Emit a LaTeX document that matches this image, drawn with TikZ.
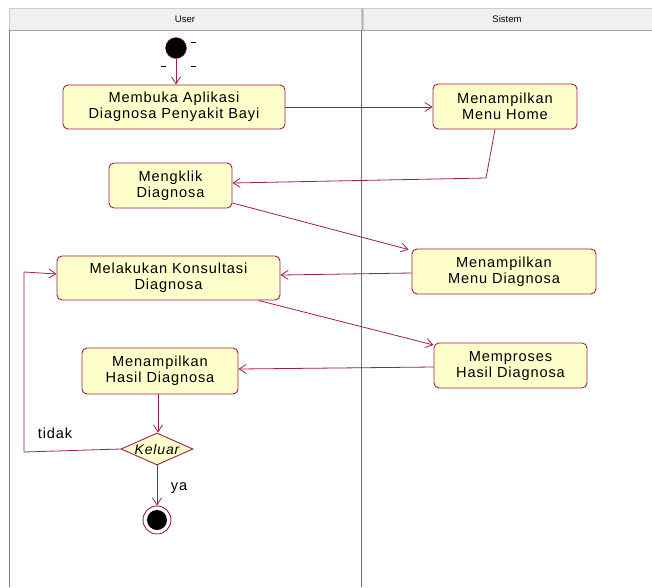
\documentclass[tikz,border=0pt]{standalone}
\usepackage{fontspec}
\setmainfont{Liberation Sans}
\newfontfamily\spaced[LetterSpace=6]{Liberation Sans}
\usetikzlibrary{arrows.meta,shapes.geometric}
\definecolor{lnc}{HTML}{A0204A}
\definecolor{boxfill}{HTML}{FFFFCC}
\definecolor{hdr}{HTML}{F0F0F0}
\begin{document}
\begin{tikzpicture}[x=1pt,y=-1pt,
  act/.style={draw=lnc, fill=boxfill, rounded corners=5pt, line width=0.9pt, align=center,
    font=\spaced\fontsize{14.6}{16}\selectfont, inner sep=0pt},
  flow/.style={draw=lnc, line width=0.8pt, -{Straight Barb[length=7pt,width=9pt]}},
  lbl/.style={font=\spaced\fontsize{14.6}{16}\selectfont}]
\useasboundingbox (0,0) rectangle (652,587);
% swimlane header
\fill[white] (0,0) rectangle (652,587);
\draw[gray!40, fill=hdr] (9,8) rectangle (361,30);
\draw[gray!40, fill=hdr] (363,8) rectangle (652,30);
\draw[gray!70, line width=1pt] (9,30) -- (652,30);
\draw[gray!60, line width=0.8pt] (362,8) -- (362,30);
\node[font=\fontsize{9.5}{11}\selectfont] (hu) at (185,19) {User};
\node[font=\fontsize{9.5}{11}\selectfont] (hs) at (507,19) {Sistem};
\draw[gray, line width=0.8pt] (9,30) -- (9,587);
\draw[lnc!80, line width=1pt] (361,30) -- (361,587);
% start
\node[circle, fill=black, draw=lnc, minimum size=21pt, inner sep=0pt] (start) at (176,48) {};
\draw[black, line width=0.5pt] (191,42) -- (196,42) (161,66) -- (166,66) (191,66) -- (196,66);
% activities
\node[act, minimum width=222pt, minimum height=44pt] (a1) at (174,107) {Membuka Aplikasi\\Diagnosa Penyakit Bayi};
\node[act, minimum width=144pt, minimum height=45pt] (s1) at (505,106.5) {Menampilkan\\Menu Home};
\node[act, minimum width=123pt, minimum height=45pt] (a2) at (170.5,185.5) {Mengklik\\Diagnosa};
\node[act, minimum width=184pt, minimum height=45pt] (s2) at (504,271.5) {Menampilkan\\Menu Diagnosa};
\node[act, minimum width=223pt, minimum height=44pt] (a3) at (168.5,278) {Melakukan Konsultasi\\Diagnosa};
\node[act, minimum width=153pt, minimum height=45pt] (s3) at (510.5,365.5) {Memproses\\Hasil Diagnosa};
\node[act, minimum width=156pt, minimum height=46pt] (a4) at (160,371) {Menampilkan\\Hasil Diagnosa};
\node[diamond, draw=lnc, fill=boxfill, line width=0.9pt, minimum width=72pt, minimum height=32pt, inner sep=0pt, aspect=2.25,
  font=\spaced\itshape\fontsize{14}{15}\selectfont] (dec) at (157,449) {Keluar};
\node[circle, draw=lnc, fill=white, line width=0.9pt, minimum size=28pt, inner sep=0pt] (end) at (157,520) {};
\node[circle, fill=black, minimum size=20pt, inner sep=0pt] (endin) at (157,520) {};
% connectors
\draw[flow] (start) -- (a1.north -| start);
\draw[flow] (a1.east) -- (s1.west |- a1.east);
\coordinate (k1) at (486,178);
\draw[flow] ([xshift=-10pt]s1.south) -- (k1) -- (a2.east |- 0,183);
\draw[flow] (a2.east |- 0,203) -- ([xshift=-3pt,yshift=-1pt]s2.north west);
\draw[flow] (s2.west |- 0,273) -- (a3.east |- 0,275);
\draw[flow] ([xshift=-22pt]a3.south east) -- (s3.west |- 0,345);
\draw[flow] (s3.west |- 0,367) -- (a4.east |- 0,369);
\draw[flow] (a4.south -| 158,0) -- (dec.north -| 158,0);
\coordinate (b1) at (24,452);
\coordinate (b2) at (24,272);
\draw[flow] (dec.west) -- (b1) -- (b2) -- (a3.west |- 0,274);
\draw[flow] (dec.south) -- (end.north);
\node[lbl] (tidak) at (55,433) {tidak};
\node[lbl] (ya) at (179,488) {ya};
\end{tikzpicture}
\end{document}
